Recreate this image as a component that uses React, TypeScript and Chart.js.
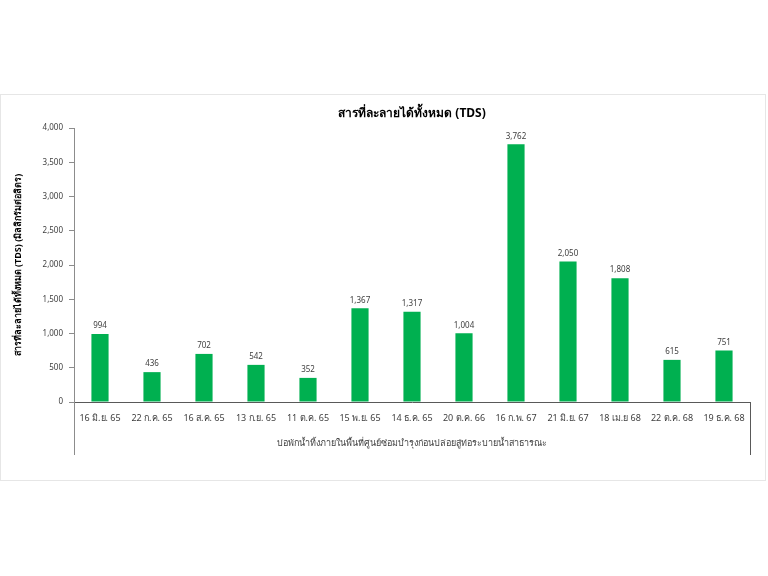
import React, { useEffect, useRef } from "react";
import { Chart, registerables } from "chart.js";

Chart.register(...registerables);

const chartTitle = "สารที่ละลายได้ทั้งหมด (TDS)";
const yAxisTitle = "สารที่ละลายได้ทั้งหมด (TDS) (มิลลิกรัมต่อลิตร)";
const xAxisTitle = "บ่อพักน้ำทิ้งภายในพื้นที่ศูนย์ซ่อมบำรุงก่อนปล่อยสู่ท่อระบายน้ำสาธารณะ";

const categories = [
  "16 มิ.ย. 65",
  "22 ก.ค. 65",
  "16 ส.ค. 65",
  "13 ก.ย. 65",
  "11 ต.ค. 65",
  "15 พ.ย. 65",
  "14 ธ.ค. 65",
  "20 ต.ค. 66",
  "16 ก.พ. 67",
  "21 มิ.ย. 67",
  "18 เม.ย 68",
  "22 ต.ค. 68",
  "19 ธ.ค. 68",
];

const tdsValues = [994, 436, 702, 542, 352, 1367, 1317, 1004, 3762, 2050, 1808, 615, 751];

const FONT = "Tahoma, 'Noto Sans', 'DejaVu Sans', sans-serif";

const decorPlugin = {
  id: "decor",
  beforeDraw(chart: any) {
    const { ctx } = chart;
    ctx.save();
    ctx.fillStyle = "#ffffff";
    ctx.fillRect(0, 0, chart.width, chart.height);
    ctx.strokeStyle = "#e6e6e6";
    ctx.lineWidth = 1;
    ctx.strokeRect(0.5, 94.5, 765, 386);
    ctx.restore();
  },
  afterDraw(chart: any) {
    const { ctx, chartArea } = chart;
    const bottomExt = 455;
    ctx.save();
    ctx.lineWidth = 1;
    ctx.strokeStyle = "#8c8c8c";
    ctx.beginPath();
    ctx.moveTo(Math.round(chartArea.left) + 0.5, chartArea.bottom);
    ctx.lineTo(Math.round(chartArea.left) + 0.5, bottomExt);
    ctx.stroke();
    ctx.strokeStyle = "#595959";
    ctx.beginPath();
    ctx.moveTo(Math.round(chartArea.right) + 0.5, chartArea.bottom);
    ctx.lineTo(Math.round(chartArea.right) + 0.5, bottomExt);
    ctx.stroke();

    // data labels
    const meta = chart.getDatasetMeta(0);
    ctx.fillStyle = "#404040";
    ctx.font = `8px ${FONT}`;
    ctx.textAlign = "center";
    ctx.textBaseline = "bottom";
    meta.data.forEach((bar: any, i: number) => {
      const v = chart.data.datasets[0].data[i] as number;
      ctx.fillText(v.toLocaleString("en-US"), bar.x, bar.y - 4);
    });
    ctx.restore();
  },
};

export default function App() {
  const canvasRef = useRef<HTMLCanvasElement | null>(null);

  useEffect(() => {
    document.body.style.margin = "0";
    const canvas = canvasRef.current;
    if (!canvas) return;
    const chart = new Chart(canvas, {
      type: "bar",
      data: {
        labels: categories,
        datasets: [
          {
            data: tdsValues,
            backgroundColor: "#00B050",
            borderWidth: 0,
            categoryPercentage: 1,
            barPercentage: 0.33,
          },
        ],
      },
      options: {
        responsive: false,
        animation: false,
        layout: { padding: { left: 0, right: 18, top: 0, bottom: 114 } },
        plugins: {
          legend: { display: false },
          tooltip: { enabled: false },
          title: {
            display: true,
            text: chartTitle,
            fullSize: false,
            color: "#000000",
            font: { family: FONT, size: 12, weight: "bold", lineHeight: 1.2 },
            padding: { top: 106, bottom: 7.6 },
          },
        },
        scales: {
          x: {
            afterFit: (s: any) => {
              s.height = 60;
            },
            grid: { display: false, drawTicks: false },
            border: { display: true, color: "#595959", width: 1 },
            ticks: {
              color: "#404040",
              font: { family: FONT, size: 9 },
              padding: 11,
              maxRotation: 0,
              autoSkip: false,
            },
            title: {
              display: true,
              text: xAxisTitle,
              color: "#404040",
              font: { family: FONT, size: 9, lineHeight: 1.2 },
              padding: { top: 0, bottom: 13.6 },
            },
          },
          y: {
            min: 0,
            max: 4000,
            afterFit: (s: any) => {
              s.width = 74;
            },
            grid: {
              drawOnChartArea: false,
              drawTicks: true,
              tickLength: 5,
              color: "#8c8c8c",
            },
            border: { display: true, color: "#8c8c8c", width: 1 },
            ticks: {
              stepSize: 500,
              color: "#404040",
              font: { family: FONT, size: 8 },
              padding: 6,
              callback: (v: any) => Number(v).toLocaleString("en-US"),
            },
            title: {
              display: true,
              text: yAxisTitle,
              color: "#000000",
              font: { family: FONT, size: 9, weight: "bold", lineHeight: 1.2 },
              padding: { top: 13, bottom: 0 },
            },
          },
        },
      },
      plugins: [decorPlugin],
    });
    return () => chart.destroy();
  }, []);

  return (
    <div style={{ width: 768, height: 576 }}>
      <canvas ref={canvasRef} width={768} height={576} style={{ display: "block" }} />
    </div>
  );
}
